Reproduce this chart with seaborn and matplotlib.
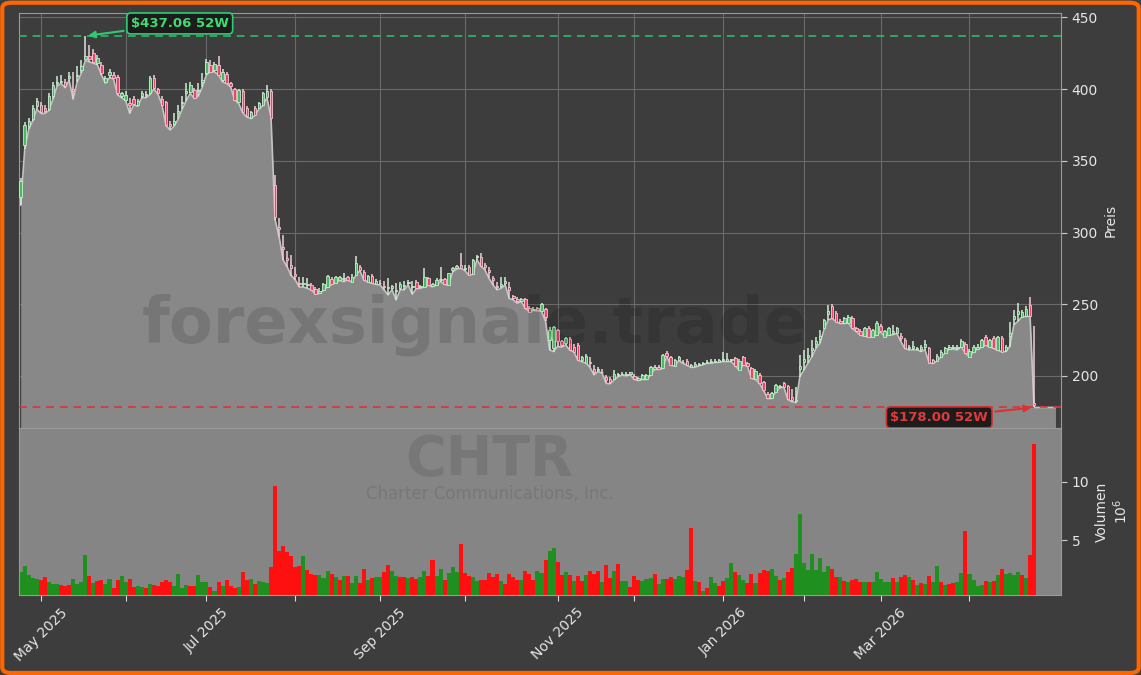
import numpy as np
import pandas as pd
import matplotlib
matplotlib.use("Agg")
import matplotlib.pyplot as plt
import seaborn as sns
from matplotlib.patches import FancyBboxPatch

# trading calendar (NYSE holidays in the window)
holidays = ['2025-05-26', '2025-06-19', '2025-07-04', '2025-09-01', '2025-11-27',
            '2025-12-25', '2026-01-01', '2026-01-19', '2026-02-16', '2026-04-03']
dates = pd.bdate_range('2025-04-24', '2026-04-24', freq='C', holidays=holidays)

ticker = "CHTR"
company = "Charter Communications, Inc."
watermark = "forexsignale.trade"
high_52w = 437.06
low_52w = 178.00

# daily OHLC
open_ = [
    325, 361, 374, 379, 388, 389, 387, 386, 395, 404,
    405, 405, 408, 400, 409, 413, 421, 423, 425, 418,
    417, 405, 410, 410, 408.5, 395, 392.5, 390, 393, 389,
    395, 396, 397, 408, 400, 393, 391, 376, 376, 383.5,
    390, 397, 398.3, 399.4, 398.5, 405, 411, 417, 413.4, 417,
    406.4, 410.4, 404, 400.2, 391.3, 398.8, 386.7, 379.7, 386.7, 386.7,
    389, 394.8, 398.8, 333, 304, 290, 282, 277, 271, 265,
    264, 263.5, 263.4, 260.4, 258, 260, 262.3, 267.4, 265.1, 267,
    267.5, 269.2, 265.8, 270.4, 276.2, 272.7, 265.8, 269.7, 264, 265,
    263, 261, 261.5, 259, 261, 262.5, 264.5, 262, 265.8, 262,
    262.3, 268, 262.5, 263.5, 267, 267.4, 263.5, 273.9, 275, 277.4,
    274.5, 275.8, 271, 282.7, 282.7, 277, 274, 268, 263, 263,
    265, 262, 255.5, 253.5, 252.5, 253.5, 247.6, 246, 247.2, 245.6,
    246.5, 225.1, 219.3, 232.1, 224, 222.8, 225.6, 220.5, 221.6, 211,
    209.3, 210, 205, 204, 203, 199, 198, 198, 200.5, 201,
    200.5, 201, 200, 197, 197.7, 198, 200.7, 205, 206, 205.4,
    216.3, 213, 207, 211, 210, 210.7, 206.5, 207, 207.5, 208,
    209, 209.5, 209.5, 210, 211, 210.5, 211, 212.3, 204.2, 213,
    209.3, 205.4, 197.7, 200.7, 195.4, 187.5, 184.4, 189, 192, 195,
    193, 185, 182.5, 205, 210, 213, 218, 222.5, 226, 233.2,
    243, 248.4, 243.7, 238.6, 236.7, 237.2, 240.2, 233.2, 231.6, 227.9,
    233.2, 227.4, 228.6, 234.9, 227.4, 228.6, 230, 229.8, 228, 225.1,
    219.5, 219.5, 219, 218.5, 220, 219.3, 211.2, 210.7, 213.5, 216.3,
    219, 219.5, 219.5, 220.5, 222.3, 213.5, 217, 219, 220, 227.4,
    220.5, 226.3, 218.1, 226.3, 218, 228, 239.5, 243, 241.4, 242,
    249.5, 181,
]
high = [
    338, 377, 380, 389, 394, 391, 389, 397, 405, 409,
    410, 407, 412, 412, 416, 420, 437.06, 431, 428, 424,
    419, 409, 414, 412, 410, 398, 399, 394, 395, 393,
    399, 399, 409, 410, 401, 395, 392, 378, 383, 389,
    395, 404, 405, 401, 404, 411, 421, 420, 419, 423,
    414, 412, 405, 401, 400, 400, 388, 385, 388, 391,
    398, 403, 400, 340, 310, 298, 287, 284, 276, 269,
    269, 268, 265, 262, 261, 265, 270.5, 269, 270, 270,
    271.6, 270, 271, 283.7, 277.5, 274, 270.5, 271, 267.5, 267,
    266, 268, 263.5, 265, 265.5, 266, 267, 266, 267, 263.5,
    275, 269, 265, 268, 276.2, 268, 272, 276, 277.5, 286,
    277, 277, 281.5, 284.5, 285.5, 278.6, 275.8, 269.7, 265.8, 269.3,
    268.8, 265.8, 256.5, 254.8, 254.2, 254.5, 248.5, 248, 248, 251,
    247.5, 234.4, 235, 233, 225, 227, 227, 222, 223, 214,
    215, 213, 207.6, 206.5, 204.6, 200.7, 199.5, 204.2, 201.9, 203,
    202.5, 203, 201, 199.1, 201.5, 201.5, 207, 207.5, 207.5, 215.5,
    217.5, 214, 212, 214, 211.2, 211.5, 208, 209.5, 209, 210,
    211, 211.5, 211.5, 212, 217, 215.8, 212, 213.5, 211.5, 214,
    210, 206, 204.5, 202, 196.5, 188.5, 189, 194.5, 194, 196,
    194, 191, 192.6, 214.6, 218.1, 219.3, 225.1, 227.4, 232.1, 240,
    249.5, 249.8, 245, 240, 241, 242.5, 241.5, 234, 232.5, 234,
    234.5, 233, 238, 236, 232, 234, 235.6, 234, 229.8, 226.5,
    221.6, 224, 220.5, 221.6, 225.1, 220.5, 212, 215, 218, 220.5,
    221.5, 221.5, 221.6, 225.5, 223.5, 218.5, 221.5, 222, 226, 228.5,
    226, 227.5, 228, 227.5, 221.6, 237.9, 246, 250.7, 246, 248.4,
    255, 234.5,
]
low = [
    319, 358, 372, 378, 386, 383, 383, 385, 393, 402,
    404, 401, 406, 393, 405, 411, 420, 419, 418, 417,
    410, 404, 408, 407, 396, 394, 392, 383, 389, 388,
    394, 394, 396, 400, 396.5, 389, 374.5, 371.5, 374, 379,
    386, 392, 397, 393.5, 395, 401.5, 410, 412, 412, 410,
    405, 404, 401.5, 392.5, 390, 383.5, 380.5, 379.5, 381.5, 386,
    388.5, 394, 380, 309, 297, 281, 276, 270, 267, 262,
    262, 261, 260, 257, 257.5, 259.5, 262, 263.5, 265, 266.5,
    265.8, 266.8, 265.5, 270, 273.5, 266.8, 265.5, 264.5, 263.8, 263.4,
    260, 256.5, 260, 253, 260, 260, 263.4, 257, 260.8, 261,
    262, 263.3, 262, 263.3, 265.8, 263.8, 263.3, 272.5, 274.5, 275,
    273.5, 270.2, 270.8, 281, 276.5, 273.9, 268, 263.5, 260, 261,
    263.5, 254, 253, 250.7, 251.8, 247, 244.8, 245.5, 245.3, 245.3,
    238, 218.1, 217, 220.5, 220, 221.5, 218, 216.8, 211, 209.8,
    209, 206, 200.7, 203, 201.9, 194.9, 194.4, 197.2, 199.5, 200.5,
    200, 200.7, 197.5, 196.8, 197.5, 197.5, 200.3, 204.5, 204.5, 205,
    213.8, 207.5, 206.8, 210.7, 208.8, 207.5, 206, 206, 207, 207.7,
    208.8, 208.8, 209.3, 209.5, 210, 210, 210, 207, 204, 207.5,
    206.8, 198.2, 197.5, 194.7, 190, 184.2, 184.2, 188.8, 191.4, 192.4,
    183.5, 182, 181.4, 199.5, 204.2, 208.8, 213.5, 219.3, 222.8, 232.5,
    239, 240, 237.7, 236.5, 236.5, 237, 233, 230.8, 228.4, 227.7,
    227.2, 227.2, 228.4, 230.8, 227.2, 228.4, 228.6, 229.6, 224, 219.1,
    218.1, 218.1, 218.1, 217, 218.1, 209.1, 208.6, 210.5, 213.3, 216,
    218.6, 218.6, 218.1, 220.3, 215.6, 213.3, 216.8, 218.6, 219.8, 221.4,
    220.3, 219.1, 217.9, 216.8, 217, 220.5, 235.6, 238, 241.2, 241.4,
    241.6, 178,
]
close = [
    336, 375, 378, 387, 392, 384, 385, 395, 403, 405,
    406, 402, 409, 399, 410, 416, 423, 421, 419, 422,
    411, 407.5, 412, 408, 397, 397, 396, 389, 389.5, 392,
    397, 396.5, 407.5, 400.6, 397, 389, 375, 374, 378, 384.5,
    391, 398.5, 403, 394, 399.5, 406.5, 419, 412.2, 417.4, 410,
    412, 404, 402, 392.5, 399.4, 384, 381, 384.3, 382, 390,
    397, 398.8, 380, 311, 302.5, 288.5, 280.5, 275.5, 270, 264,
    265, 264, 260, 257.2, 259.5, 264.2, 269.7, 264, 268.8, 268.8,
    268.5, 267, 269.2, 278.6, 274, 267, 269.7, 264.6, 266.5, 264.5,
    262, 262, 262.5, 260, 264, 263.5, 265.5, 263, 261, 262.8,
    269.3, 263.5, 264, 267, 267.8, 264, 271.6, 275, 276.7, 275.2,
    275.5, 270.4, 280.9, 283.7, 276.7, 276, 272.5, 267, 262, 264,
    266, 260, 254.5, 252.5, 253.3, 247.2, 244.9, 247, 245.7, 250.2,
    241.4, 232.1, 234.4, 224, 221.6, 226.3, 218.1, 217, 211.2, 213,
    214, 209, 203, 205, 202.5, 197, 195.5, 201, 201, 201.5,
    201.2, 202.5, 197.7, 198.5, 200.7, 200.5, 206, 206, 205, 214.6,
    214, 207.7, 211.2, 213, 209.5, 207.7, 207.5, 208.5, 208.4, 209.3,
    210, 210.2, 210.7, 211, 211.5, 211.6, 211.2, 207, 210.7, 207.7,
    207, 198.4, 203.7, 194.9, 190.2, 184.4, 188, 193.7, 193, 192.6,
    183.7, 183, 183.5, 207, 211.5, 214.5, 219.5, 224, 228, 239,
    245.5, 240.2, 237.9, 236.7, 240.2, 241.4, 233.2, 231, 228.6, 233.2,
    227.4, 232.1, 236.7, 231, 231, 233.2, 231.5, 233.2, 226.5, 219.3,
    220.5, 221, 219.5, 220, 222, 209.3, 208.8, 214, 217, 219.3,
    220.2, 220, 220.5, 224.6, 215.8, 217.7, 220.5, 220.5, 225.1, 221.6,
    225.1, 219.3, 227, 217, 220, 230, 241.5, 245, 244.9, 246.5,
    241.8, 179.5,
]

# volume in millions and bar colour (g = up, r = down)
volume = [
    2.34, 2.83, 2.06, 1.77, 1.69, 1.63, 1.89, 1.46, 1.29, 1.29,
    1.23, 1.15, 1.20, 1.72, 1.29, 1.46, 3.80, 1.97, 1.40, 1.55,
    1.63, 1.29, 1.72, 0.97, 1.63, 1.97, 1.46, 1.72, 1.06, 1.12,
    1.06, 0.95, 1.29, 1.20, 1.15, 1.46, 1.63, 1.46, 1.12, 2.15,
    0.95, 1.20, 1.12, 1.12, 2.06, 1.46, 1.46, 1.06, 0.69, 1.46,
    1.12, 1.63, 1.12, 0.97, 1.06, 2.32, 1.63, 1.72, 1.29, 1.55,
    1.46, 1.40, 2.77, 9.68, 4.11, 4.54, 4.03, 3.69, 2.77, 2.83,
    3.69, 2.49, 2.15, 2.03, 2.06, 1.80, 2.40, 2.15, 1.89, 1.63,
    1.97, 1.97, 1.38, 1.97, 1.38, 2.57, 1.63, 1.80, 1.89, 1.92,
    2.34, 2.92, 2.40, 1.97, 1.92, 1.92, 1.83, 1.92, 1.69, 1.92,
    2.40, 1.97, 3.34, 1.97, 2.57, 1.63, 2.23, 2.74, 2.32, 4.71,
    2.23, 1.97, 1.92, 1.55, 1.63, 1.63, 2.23, 1.92, 2.15, 1.55,
    1.29, 2.15, 1.92, 1.63, 1.63, 2.40, 2.15, 1.63, 2.40, 2.23,
    3.34, 4.11, 4.37, 3.17, 2.06, 2.32, 2.06, 1.55, 1.97, 1.55,
    2.06, 2.40, 2.15, 2.40, 1.46, 2.92, 1.80, 2.40, 3.00, 1.55,
    1.55, 1.03, 1.97, 1.63, 1.55, 1.72, 1.80, 2.15, 1.29, 1.72,
    1.72, 1.89, 1.72, 1.97, 1.89, 2.49, 6.08, 1.55, 1.46, 0.69,
    0.95, 1.89, 1.37, 1.12, 1.55, 1.80, 3.09, 2.32, 2.06, 1.63,
    1.37, 2.15, 1.37, 2.23, 2.49, 2.40, 2.57, 1.97, 1.63, 1.80,
    2.32, 2.66, 3.86, 7.28, 3.09, 2.49, 3.86, 2.49, 3.52, 2.32,
    2.83, 2.57, 1.89, 1.89, 1.55, 1.46, 1.63, 1.72, 1.46, 1.46,
    1.46, 1.46, 2.32, 1.72, 1.46, 1.46, 1.80, 1.46, 1.89, 2.06,
    1.89, 1.63, 1.20, 1.37, 1.29, 1.97, 1.46, 2.83, 1.46, 1.20,
    1.29, 1.37, 1.46, 2.23, 5.83, 2.15, 1.63, 1.12, 1.20, 1.55,
    1.46, 1.55, 2.06, 2.57, 2.15, 2.23, 2.06, 2.32, 2.06, 1.80,
    3.77, 13.27,
]
vol_dir = list(
    "gggggrrggg"
    "rrrggggrgr"
    "rggrrggrrg"
    "grgrrrrrgg"
    "ggrrgggrgr"
    "grrrgrrgrg"
    "ggrrrrrrrr"
    "grrrgggrgr"
    "grggrrgrgg"
    "rrggrrgrrg"
    "grrggrgggr"
    "rrggrrrrrg"
    "rrrrgrrrgg"
    "rggrrgrgrr"
    "grrrgrrgrg"
    "grrrgggrgg"
    "rrgggrrgrg"
    "rggrrggrgg"
    "rrgrrrggrg"
    "rrgggggggg"
    "grrgrgrrrg"
    "rgggggrgrr"
    "grgrgrggrg"
    "rrggrggggr"
    "grgrggggrg"
    "rr"
)

BG = '#3d3d3d'
TXT = '#e6e6e6'
sns.set_style("dark", {"axes.facecolor": BG, "figure.facecolor": BG})
plt.rcParams['font.family'] = ['DejaVu Sans']

fig = plt.figure(figsize=(11.41, 6.75), dpi=100, facecolor=BG)
ax = fig.add_axes([0.0169, 0.366, 0.9131, 0.6152])
axv = fig.add_axes([0.0169, 0.1185, 0.9131, 0.2475])

n = len(close)
x = np.arange(n)
o = np.array(open_)
h = np.array(high)
l = np.array(low)
c = np.array(close)
up = c >= o

y_bottom = 163.7
xmax = 257.7

# area under the lows, stretched a little past the last session
x_fill = np.append(x, 256.3)
low_fill = np.append(l, l[-1])
ax.fill_between(x_fill, low_fill, y_bottom, color='#888888', zorder=2, linewidth=0)
sns.lineplot(x=x_fill, y=low_fill, ax=ax, color='#c4c4c4', linewidth=1.2, zorder=2.5, sort=False)

ax.axhline(high_52w, color='#2fb36a', ls=(0, (4, 3)), lw=1.4, alpha=0.9, zorder=2.6)
ax.axhline(low_52w, color='#d9363e', ls=(0, (4, 3)), lw=1.4, alpha=0.9, zorder=2.6)

# candles
ax.vlines(x, l, h, colors=list(np.where(up, '#d3ead6', '#f1cdd6')), linewidth=1.1, zorder=3)
ax.bar(x, np.maximum(np.abs(c - o), 0.5), bottom=np.minimum(o, c), width=0.62,
       color=list(np.where(up, '#4cb862', '#e5476d')),
       edgecolor=list(np.where(up, '#c9ecd0', '#f7c6d1')), linewidth=0.6, zorder=4)

ax.set_xlim(-0.35, xmax)
ax.set_ylim(y_bottom, 453.3)
ax.set_facecolor(BG)

# month ticks on trading-day index
month_pos = [i for i in range(1, n) if dates[i].month != dates[i - 1].month]
month_lab = [dates[i].strftime('%b %Y') if dates[i].month % 2 == 1 else '' for i in month_pos]

ax.set_xticks(month_pos)
ax.set_yticks([200, 250, 300, 350, 400, 450])
ax.grid(True, color='#6a6a6a', linewidth=0.8, zorder=0)
ax.set_axisbelow(True)
ax.tick_params(axis='x', bottom=False, labelbottom=False)
ax.yaxis.tick_right()
ax.yaxis.set_label_position('right')
ax.tick_params(axis='y', colors='#cccccc', labelcolor=TXT, labelsize=10, length=4, right=True)
ax.set_ylabel('Preis', color=TXT, fontsize=10)
for s in ax.spines.values():
    s.set_color('#9a9a9a')
    s.set_linewidth(0.8)

# annotations for the 52-week extremes
i_hi = int(np.argmax(h))
ax.annotate(f"${high_52w:.2f} 52W", xy=(i_hi, high_52w), xytext=(39.4, 445.8),
            ha='center', va='center', color='#3ddc6f', fontsize=9.5, fontweight='bold',
            bbox=dict(boxstyle='round,pad=0.3', fc='#1c1c1c', ec='#2ecc71', lw=1.2),
            arrowprops=dict(arrowstyle='-|>', color='#2ecc71', lw=1.5, mutation_scale=10),
            zorder=6)
i_lo = int(np.argmin(l))
ax.annotate(f"${low_52w:.2f} 52W", xy=(i_lo, low_52w), xytext=(227.5, 171.1),
            ha='center', va='center', color='#e03a3a', fontsize=9.5, fontweight='bold',
            bbox=dict(boxstyle='round,pad=0.3', fc='#1c1c1c', ec='#d03030', lw=1.2),
            arrowprops=dict(arrowstyle='-|>', color='#e03030', lw=1.5, mutation_scale=10),
            zorder=6)

# volume panel
axv.set_facecolor('#858585')
axv.bar(x, volume, width=1.0, bottom=0,
        color=['#1f8f1f' if d == 'g' else '#ff1010' for d in vol_dir], linewidth=0, zorder=2)
axv.set_xlim(-0.35, xmax)
axv.set_ylim(0.35, 14.6)
axv.set_yticks([5, 10])
axv.yaxis.tick_right()
axv.yaxis.set_label_position('right')
axv.tick_params(axis='y', colors='#cccccc', labelcolor=TXT, labelsize=10, length=4, right=True)
axv.set_ylabel('Volumen\n$10^6$', color=TXT, fontsize=10)
axv.set_xticks(month_pos)
axv.set_xticklabels(month_lab, rotation=45, ha='center', color=TXT, fontsize=10)
axv.tick_params(axis='x', colors='#dddddd', labelcolor=TXT, length=4, bottom=True)
axv.grid(False)
for s in axv.spines.values():
    s.set_color('#9a9a9a')
    s.set_linewidth(0.8)

# watermarks
fig.text(0.416, 0.519, watermark, fontsize=46, fontweight='bold', color='black',
         alpha=0.13, ha='center', va='center', zorder=10)
fig.text(0.429, 0.318, ticker, fontsize=40, fontweight='bold', color='black',
         alpha=0.1, ha='center', va='center', zorder=10)
fig.text(0.429, 0.268, company, fontsize=12, color='black',
         alpha=0.1, ha='center', va='center', zorder=10)

# orange frame
fig.patches.append(FancyBboxPatch((0.002, 0.003), 0.996, 0.993,
                                  boxstyle='round,pad=0,rounding_size=0.008',
                                  transform=fig.transFigure, fc='none', ec='#ff6600', lw=3))

fig.savefig('out.png', dpi=100, facecolor=BG)
